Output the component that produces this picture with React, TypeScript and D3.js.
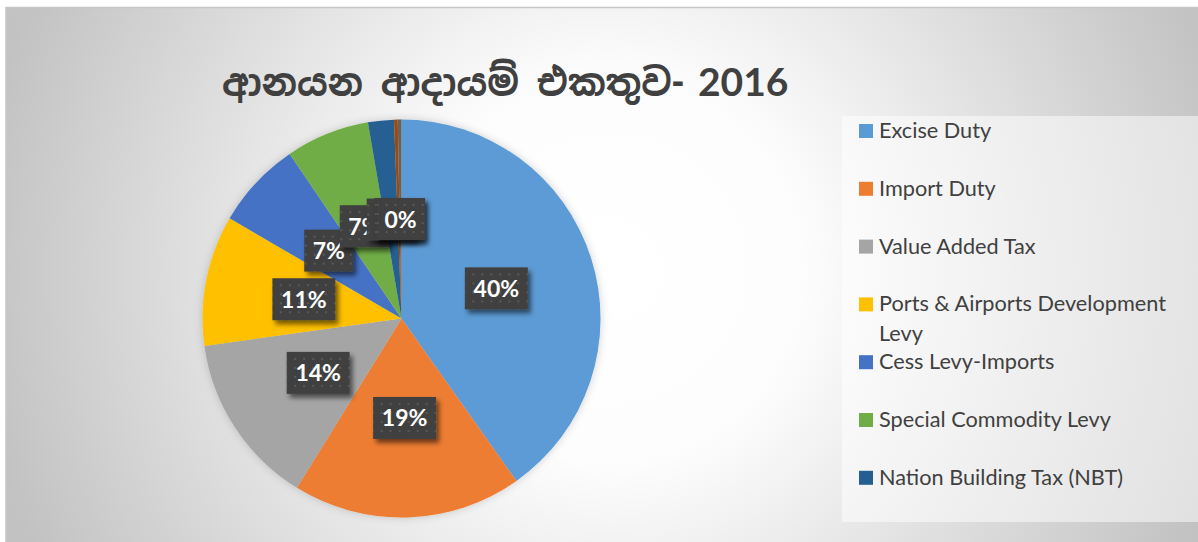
import React from "react";
import * as d3 from "d3";

const categories = [
  "Excise Duty",
  "Import Duty",
  "Value Added Tax",
  "Ports & Airports Development Levy",
  "Cess Levy-Imports",
  "Special Commodity Levy",
  "Nation Building Tax (NBT)",
  "Surcharge",
  "Other",
];
const values = [40.2, 18.6, 14.0, 10.6, 7.1, 6.8, 2.1, 0.3, 0.3];
const colors = [
  "#5B9BD5",
  "#ED7D31",
  "#A5A5A5",
  "#FFC000",
  "#4472C4",
  "#70AD47",
  "#255E91",
  "#9E480E",
  "#636363",
];
const legendVisible = 7;
const titleSinhala = "ආනයන ආදායම් එකතුව-";
const titleYear = "2016";

const W = 1198;
const H = 542;
const cx = 401.5;
const cy = 318.5;
const R = 199;

function wrap(text: string, maxW: number, font: string): string[] {
  const c = document.createElement("canvas").getContext("2d");
  if (!c) return [text];
  c.font = font;
  const words = text.split(" ");
  const lines: string[] = [];
  let cur = "";
  for (const w of words) {
    const t = cur ? cur + " " + w : w;
    if (c.measureText(t).width > maxW && cur) {
      lines.push(cur);
      cur = w;
    } else cur = t;
  }
  if (cur) lines.push(cur);
  return lines;
}

export default function App() {
  const total = d3.sum(values);
  const arcs = d3.pie<number>().sort(null).value((d) => d)(values);
  const arc = d3.arc<d3.PieArcDatum<number>>().innerRadius(0).outerRadius(R);
  const labelArc = d3
    .arc<d3.PieArcDatum<number>>()
    .innerRadius(R * 0.5)
    .outerRadius(R * 0.5);
  const fmt = (v: number) => Math.round((v / total) * 100) + "%";

  const legendFontSize = 21.7;
  const legendFont = `${legendFontSize}px Lato`;
  const legendTop = 124;
  const legendStep = 57.8;

  return (
    <svg
      width={W}
      height={H}
      style={{ position: "absolute", left: 0, top: 0 }}
      fontFamily="Lato, 'Open Sans', sans-serif"
    >
      <defs>
        <radialGradient id="bg" gradientUnits="userSpaceOnUse" cx={610} cy={270} r={640}>
          <stop offset="0" stopColor="#ffffff" />
          <stop offset="0.3" stopColor="#fdfdfd" />
          <stop offset="1" stopColor="#c2c2c2" />
        </radialGradient>
        <pattern id="dots" width={9} height={9} patternUnits="userSpaceOnUse">
          <rect width={9} height={9} fill="#404040" />
          <rect x={3} y={3} width={2} height={2} fill="#585858" />
        </pattern>
        <filter id="boxShadow" x="-30%" y="-30%" width="160%" height="170%">
          <feDropShadow dx={3} dy={4} stdDeviation={2.5} floodColor="#000" floodOpacity={0.55} />
        </filter>
        <filter id="pieShadow" x="-10%" y="-10%" width="120%" height="120%">
          <feDropShadow dx={0} dy={0} stdDeviation={4} floodColor="#000" floodOpacity={0.18} />
        </filter>
      </defs>
      <rect x={0} y={0} width={W} height={H} fill="#ffffff" />
      <rect x={6} y={7.5} width={W} height={H} fill="url(#bg)" stroke="#c6c6c6" strokeWidth={1.5} />

      <text
        x={222}
        y={96}
        fill="#404040"
        fontSize={38}
        fontFamily="'Noto Sans Sinhala', 'Noto Serif Sinhala', 'Iskoola Pota', 'Lohit Sinhala', sans-serif"
        fontWeight="bold"
        textLength={462}
        lengthAdjust="spacingAndGlyphs"
      >
        {titleSinhala}
      </text>
      <text x={698} y={96} fill="#404040" fontSize={39} fontWeight="bold">
        {titleYear}
      </text>

      <g transform={`translate(${cx},${cy})`}>
        <g filter="url(#pieShadow)">
          {arcs.map((a, i) => (
            <path key={i} d={arc(a) || ""} fill={colors[i]} />
          ))}
        </g>
        {arcs.map((a, i) => {
          const [lx, ly] = labelArc.centroid(a);
          const label = fmt(a.data);
          const bw = 21 + 14 * label.length;
          const bh = 42;
          return (
            <g key={i} transform={`translate(${lx},${ly})`}>
              <rect
                x={-bw / 2}
                y={-bh / 2}
                width={bw}
                height={bh}
                fill="url(#dots)"
                filter="url(#boxShadow)"
              />
              <text
                x={0}
                y={8.5}
                textAnchor="middle"
                fill="#ffffff"
                fontWeight="bold"
                fontSize={23}
              >
                {label}
              </text>
            </g>
          );
        })}
      </g>

      <rect x={842} y={116} width={W - 842} height={406} fill="#ffffff" fillOpacity={0.5} />
      {categories.slice(0, legendVisible).map((c, i) => {
        const y = legendTop + i * legendStep;
        const lines = wrap(c, 300, legendFont);
        return (
          <g key={c}>
            <rect x={859} y={y} width={14} height={14} fill={colors[i]} />
            <text x={879} y={y + 14} fontSize={legendFontSize} fill="#404040">
              {lines.map((l, j) => (
                <tspan key={j} x={879} dy={j === 0 ? 0 : 30}>
                  {l}
                </tspan>
              ))}
            </text>
          </g>
        );
      })}
    </svg>
  );
}
